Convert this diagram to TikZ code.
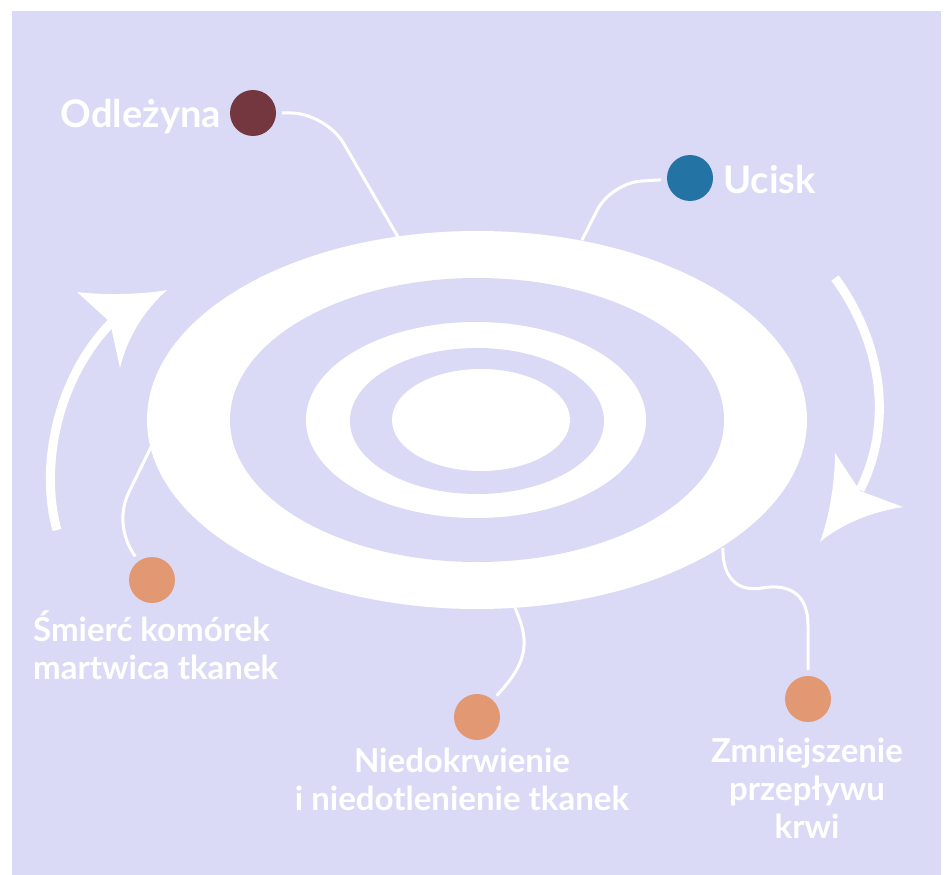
\documentclass[tikz,border=0pt]{standalone}
\usepackage{fontspec}
\setmainfont{Lato}
\usetikzlibrary{positioning}
\definecolor{lavender}{HTML}{DADAF6}
\definecolor{maroon}{HTML}{74363F}
\definecolor{ucblue}{HTML}{2374A5}
\definecolor{peach}{HTML}{E39874}

\begin{document}
\begin{tikzpicture}[
  x=1pt, y=-1pt,
  dot/.style={circle, minimum size=46pt, inner sep=0pt, outer sep=6pt},
  link/.style={draw=white, line width=3pt},
  shaft/.style={draw=white, line width=9pt},
  head/.style={fill=white},
  bigtext/.style={text=white, inner sep=0pt, font=\bfseries\fontsize{38}{44}\selectfont},
  smalltext/.style={text=white, inner sep=0pt, font=\bfseries\fontsize{33}{38}\selectfont},
]
% canvas
\useasboundingbox (0,0) rectangle (946,875);
\fill[white] (0,0) rectangle (946,875);
\fill[lavender] (12,11) rectangle (941,875);

% rings
\fill[white] (477,420) ellipse [x radius=330, y radius=189];
\fill[lavender] (477,420) ellipse [x radius=247, y radius=142];
\fill[white] (476,420) ellipse [x radius=170, y radius=98];
\fill[lavender] (477,421) ellipse [x radius=127, y radius=73];
\fill[white] (481,420) ellipse [x radius=89, y radius=51];

% cycle arrows
\draw[shaft] (57,530) .. controls (40,470) and (55,380) .. (112,322);
\fill[head] (167,290) .. controls (140,295) and (100,295) .. (77,292) -- (110,322)
  -- (120,368) .. controls (128,335) and (145,310) .. (167,290) -- cycle;
\draw[shaft] (835,278) .. controls (880,340) and (895,420) .. (860,490);
\fill[head] (835,453) -- (860,491) -- (903,507) .. controls (870,512) and (840,525) .. (820,542)
  .. controls (830,515) and (835,480) .. (835,453) -- cycle;

% points on the rings
\coordinate (odl-e) at (398,237);
\coordinate (uci-e) at (582,240);
\coordinate (nie-e) at (515,608);
\coordinate (zmn-e) at (723,548);
\coordinate (smi-e) at (152,445);

% dots
\node[dot, fill=maroon] (odl) at (253,113) {};
\node[dot, fill=ucblue] (uci) at (690,178) {};
\node[dot, fill=peach] (smi) at (152,580) {};
\node[dot, fill=peach] (nie) at (477,717) {};
\node[dot, fill=peach] (zmn) at (808,699) {};

% texts (base = last line)
\node[bigtext, anchor=base east] (odl-t) at (221,128) {Odleżyna};
\node[bigtext, anchor=base west] (uci-t) at (723,193) {Ucisk};
\node[smalltext, align=left, anchor=base west] (smi-t) at (33,679) {Śmierć komórek\\martwica tkanek};
\node[smalltext, align=center, anchor=base] (nie-t) at (462,810) {Niedokrwienie\\i niedotlenienie tkanek};
\node[smalltext, align=center, anchor=base] (zmn-t) at (807,838) {Zmniejszenie\\przepływu\\krwi};

% connectors
\draw[link, rounded corners=35] (odl) -- (326,113) -- (odl-e);
\draw[link, rounded corners=30] (uci) -- (611,183) -- (uci-e);
\draw[link] (nie-e) .. controls (532,645) and (525,665) .. (nie);
\draw[link] (zmn-e) .. controls (722,580) and (740,592) .. (762,588)
  .. controls (790,583) and (808,595) .. (808,625) -- (zmn);
\draw[link] (smi-e) -- (129,492) .. controls (120,510) and (120,535) .. (smi);
\end{tikzpicture}
\end{document}
